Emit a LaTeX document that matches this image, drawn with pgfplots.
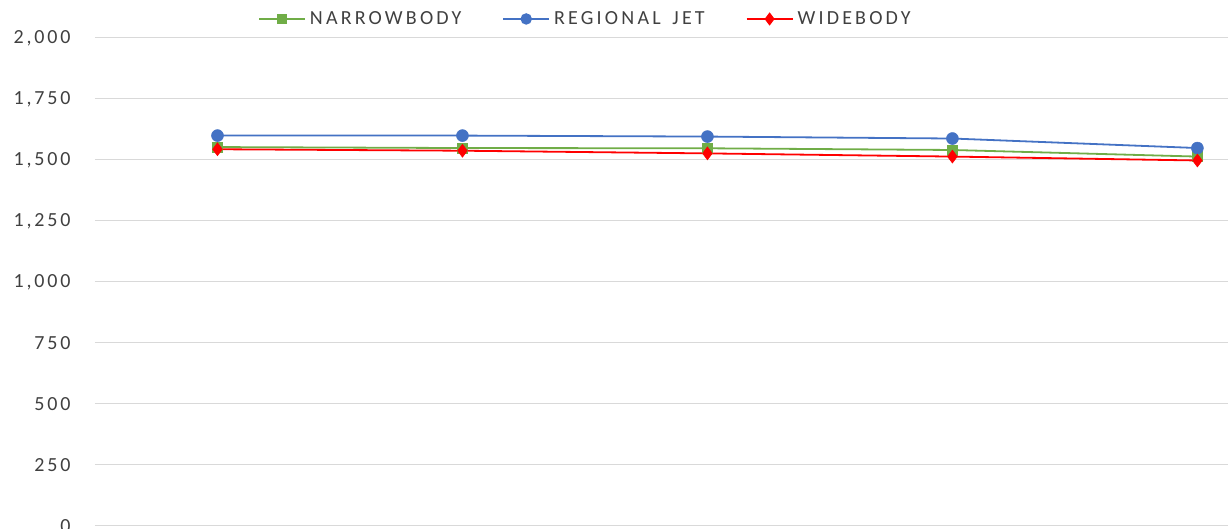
\documentclass[border=0pt]{standalone}
\usepackage{fontspec}
\setmainfont{Carlito}
\usepackage{pgfplots}
\pgfplotsset{compat=1.18}
\definecolor{gridgray}{HTML}{D9D9D9}
\definecolor{txtgray}{HTML}{404040}
\definecolor{ngreen}{HTML}{70AD47}
\definecolor{rblue}{HTML}{4472C4}
\definecolor{wred}{HTML}{FF0000}
\begin{document}
\begin{tikzpicture}
\begin{axis}[
  name=ax,
  scale only axis,
  width=1133pt, height=488pt,
  xmin=0, xmax=4.625,
  ymin=0, ymax=2000,
  ytick={0,250,...,2000},
  xtick={1,2,3,4},
  xticklabels={},
  axis line style={draw=none},
  axis x line*=bottom,
  ymajorgrids,
  grid style={gridgray, line width=1pt},
  major tick length=0pt,
  x tick style={gridgray, line width=1pt},
  /pgf/number format/assume math mode=true,
  /pgf/number format/1000 sep={,},
  yticklabel style={font=\fontsize{20}{22}\selectfont\addfontfeatures{LetterSpace=14}, text=txtgray, xshift=-21pt},
  legend columns=3,
  legend style={draw=none, fill=none, at={(rel axis cs:0.1438,1.039)}, anchor=west,
    font=\fontsize{20}{22}\selectfont\addfontfeatures{LetterSpace=16}, text=txtgray,
    inner sep=0pt,
    /tikz/every even column/.append style={column sep=39pt},
    /tikz/every odd column/.append style={column sep=2pt}},
  legend image code/.code={
    \draw[mark repeat=2,mark phase=2, mark options={scale=0.8}] plot coordinates {(0pt,0pt) (23pt,0pt) (46pt,0pt)};
  },
]
\addplot[ngreen, line width=1.8pt, mark=square*, mark size=5pt, mark options={line width=0.5pt}]
  coordinates {(0.5,1553) (1.5,1549) (2.5,1548) (3.5,1541) (4.5,1514)};
\addlegendentry{NARROWBODY}
\addplot[rblue, line width=1.8pt, mark=*, mark size=6pt, mark options={line width=0.5pt}]
  coordinates {(0.5,1600) (1.5,1600) (2.5,1596) (3.5,1588) (4.5,1549)};
\addlegendentry{REGIONAL\kern4pt{} JET}
\addplot[wred, line width=1.8pt, mark=diamond*, mark size=6.5pt, mark options={line width=0.5pt}]
  coordinates {(0.5,1544) (1.5,1538) (2.5,1527) (3.5,1514) (4.5,1498)};
\addlegendentry{WIDEBODY}
\end{axis}
\pgfresetboundingbox
\useasboundingbox ([xshift=-95pt,yshift=-3pt]ax.south west) rectangle ([yshift=38pt]ax.north east);
\end{tikzpicture}
\end{document}
